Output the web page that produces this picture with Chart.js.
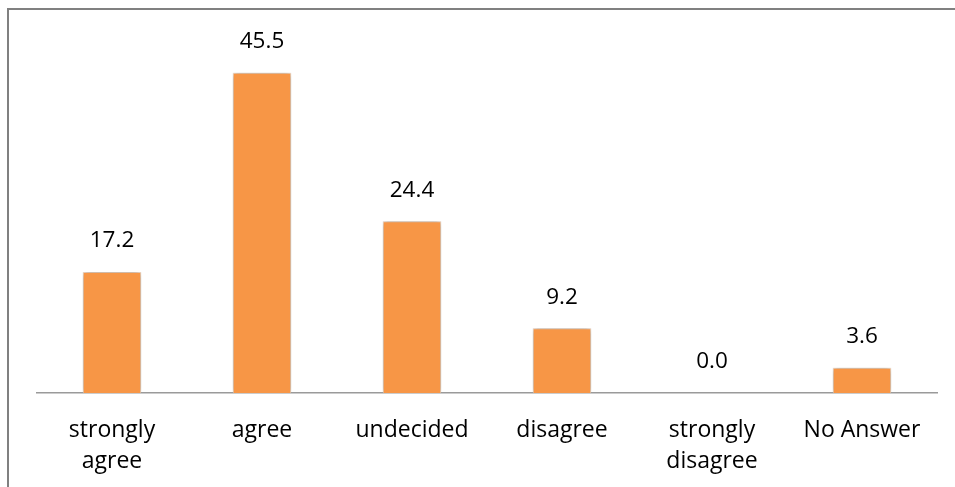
<!DOCTYPE html>
<html>
<head>
<meta charset="utf-8">
<script src="https://cdn.jsdelivr.net/npm/chart.js@4"></script>
<style>
  html, body { margin: 0; padding: 0; background: #fff; }
  #wrap { position: relative; width: 955px; height: 487px; }
</style>
</head>
<body>
<div id="wrap"><canvas id="chart" width="955" height="487"></canvas></div>
<script>
const categories = [["strongly", "agree"], "agree", "undecided", "disagree", ["strongly", "disagree"], "No Answer"];
const percentages = [17.2, 45.5, 24.4, 9.2, 0.0, 3.6];

const FONT = "'Open Sans', 'Noto Sans', sans-serif";

// soft grey shadow behind the bars
const barShadow = {
    id: "barShadow",
    beforeDatasetsDraw(chart) {
        const ctx = chart.ctx;
        ctx.save();
        ctx.shadowColor = "rgba(0,0,0,0.4)";
        ctx.shadowBlur = 6;
        ctx.shadowOffsetX = 0;
        ctx.shadowOffsetY = 0;
    },
    afterDatasetsDraw(chart) {
        chart.ctx.restore();
    }
};

// value printed above each bar
const valueLabels = {
    id: "valueLabels",
    afterDatasetsDraw(chart) {
        const ctx = chart.ctx;
        const meta = chart.getDatasetMeta(0);
        ctx.save();
        ctx.font = "22.5px " + FONT;
        ctx.fillStyle = "#000";
        ctx.textAlign = "center";
        ctx.textBaseline = "middle";
        meta.data.forEach((bar, i) => {
            ctx.fillText(percentages[i].toFixed(1), bar.x, bar.y - 31);
        });
        ctx.restore();
    }
};

// outer frame, only the left and top edges are visible
const frame = {
    id: "frame",
    afterDraw(chart) {
        const ctx = chart.ctx;
        ctx.save();
        ctx.strokeStyle = "#808080";
        ctx.lineWidth = 2;
        ctx.beginPath();
        ctx.moveTo(8, chart.height);
        ctx.lineTo(8, 9);
        ctx.lineTo(chart.width, 9);
        ctx.stroke();
        ctx.restore();
    }
};

new Chart(document.getElementById("chart"), {
    type: "bar",
    data: {
        labels: categories,
        datasets: [{
            data: percentages,
            backgroundColor: "#F79646",
            borderColor: "#FDE3CF",
            borderWidth: 1,
            borderSkipped: "bottom",
            categoryPercentage: 1,
            barPercentage: 0.39
        }]
    },
    options: {
        responsive: false,
        animation: false,
        layout: { padding: { left: 37, right: 18, top: 41, bottom: 0 } },
        plugins: {
            legend: { display: false },
            tooltip: { enabled: false }
        },
        scales: {
            y: {
                display: false,
                min: 0,
                max: 50
            },
            x: {
                grid: { display: false, drawTicks: false },
                border: { display: true, color: "#9a9a9a", width: 1.5 },
                ticks: {
                    color: "#000",
                    padding: 22,
                    maxRotation: 0,
                    autoSkip: false,
                    font: { family: FONT, size: 23, lineHeight: 1.34 }
                },
                afterFit(scale) { scale.height = 94; }
            }
        }
    },
    plugins: [barShadow, valueLabels, frame]
});
</script>
</body>
</html>
